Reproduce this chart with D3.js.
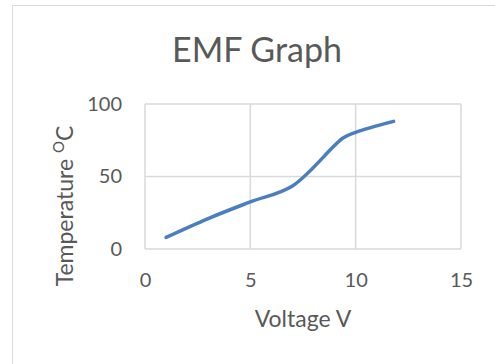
<!DOCTYPE html>
<html>
<head>
<meta charset="utf-8">
<script src="https://cdn.jsdelivr.net/npm/d3@7"></script>
<style>
  body { margin: 0; background: #fff; }
  svg text { font-family: Lato, "Open Sans", sans-serif; fill: #595959; }
</style>
</head>
<body>
<div id="chart"></div>
<script>
// data
const voltage = [1, 3, 5, 7, 9.4, 10, 11.8]
const temperature = [8, 21, 32.5, 43.5, 76.5, 80.5, 88]
const xTicks = [0, 5, 10, 15]
const yTicks = [0, 50, 100]

const width = 495
const height = 364
const plot = { left: 145, top: 104, right: 461, bottom: 249 }

const svg = d3.select('#chart').append('svg')
  .attr('width', width)
  .attr('height', height)

// chart border (runs off the right and bottom)
svg.append('rect')
  .attr('x', 12.5).attr('y', 5.5)
  .attr('width', 500).attr('height', 400)
  .attr('fill', '#fff')
  .attr('stroke', '#d9d9d9')

const x = d3.scaleLinear().domain([0, 15]).range([plot.left, plot.right])
const y = d3.scaleLinear().domain([0, 100]).range([plot.bottom, plot.top])

// gridlines
const grid = svg.append('g').attr('class', 'grid')
grid.selectAll('line.v')
  .data(xTicks)
  .join('line')
  .attr('class', 'v')
  .attr('x1', d => x(d)).attr('x2', d => x(d))
  .attr('y1', plot.top).attr('y2', plot.bottom)
  .attr('stroke', '#d9d9d9').attr('stroke-width', 1.5)
grid.selectAll('line.h')
  .data(yTicks)
  .join('line')
  .attr('class', 'h')
  .attr('x1', plot.left).attr('x2', plot.right)
  .attr('y1', d => y(d)).attr('y2', d => y(d))
  .attr('stroke', '#d9d9d9').attr('stroke-width', 1.5)

// axes (labels only)
const xAxis = svg.append('g')
  .attr('transform', `translate(0,${plot.bottom})`)
  .call(d3.axisBottom(x).tickValues(xTicks).tickSize(0).tickPadding(24))
const yAxis = svg.append('g')
  .attr('transform', `translate(${plot.left},0)`)
  .call(d3.axisLeft(y).tickValues(yTicks).tickSize(0).tickPadding(23))
;[xAxis, yAxis].forEach(a => {
  a.select('.domain').remove()
  a.selectAll('text').attr('font-size', 20).attr('fill', '#595959')
    .style('font-family', 'Lato, sans-serif')
})

// series
const points = voltage.map((v, i) => ({ v, t: temperature[i] }))
const line = d3.line()
  .x(d => x(d.v))
  .y(d => y(d.t))
  .curve(d3.curveCatmullRom.alpha(0.5))

svg.append('path')
  .datum(points)
  .attr('d', line)
  .attr('fill', 'none')
  .attr('stroke', '#4a7ebf')
  .attr('stroke-width', 3.5)
  .attr('stroke-linecap', 'round')
  .attr('stroke-linejoin', 'round')

// title
svg.append('text')
  .attr('x', 257).attr('y', 62)
  .attr('text-anchor', 'middle')
  .attr('font-size', 34)
  .text('EMF Graph')

// axis titles
svg.append('text')
  .attr('x', (plot.left + plot.right) / 2).attr('y', 327)
  .attr('text-anchor', 'middle')
  .attr('font-size', 23)
  .text('Voltage V')

const yTitle = svg.append('text')
  .attr('transform', 'translate(73,206) rotate(-90)')
  .attr('text-anchor', 'middle')
  .attr('font-size', 23)
yTitle.append('tspan').text('Temperature ')
yTitle.append('tspan').attr('font-size', 15).attr('dy', -9).text('O')
yTitle.append('tspan').attr('dy', 9).text('C')
</script>
</body>
</html>
